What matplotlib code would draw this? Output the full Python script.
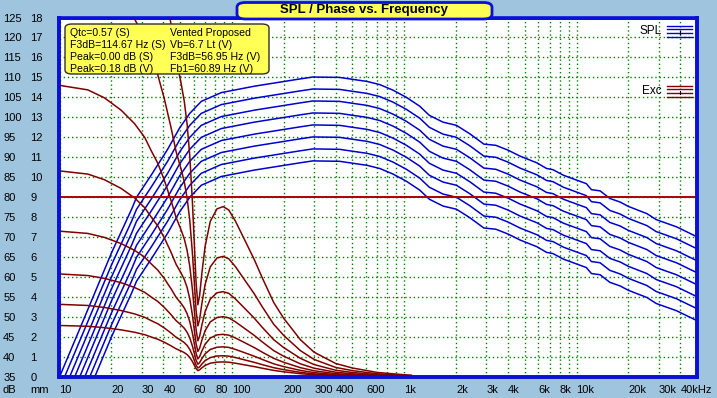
import numpy as np
import matplotlib
matplotlib.use('Agg')
import matplotlib.pyplot as plt
from matplotlib.patches import FancyBboxPatch

plt.rcParams['font.family'] = ['Liberation Sans', 'DejaVu Sans']

# SPL of the loudest curve (dB), the others sit 3 dB apart below it
spl_freq = [10, 14, 20, 26.2, 28, 34, 42.4, 49.7, 57, 66.5, 86.9, 135, 247, 295, 422,
            505, 608, 722, 862, 1030, 1230, 1400, 1680, 2010, 2400, 2900, 3400, 4000,
            4700, 5900, 6700, 7300, 8400, 10000, 11400, 12200, 13700, 15600, 17900,
            20000, 25600, 29000, 38000, 50000]
spl_top = [35, 50, 66, 77, 80, 85.5, 92, 97.3, 101, 104, 106.2, 107.8, 109.6, 110.1,
           110, 109.5, 109, 108.2, 106.8, 105, 102.8, 100.5, 98.8, 98, 95.9, 93.3, 93,
           91.8, 90.3, 88.6, 87.2, 86.9, 85.5, 84.3, 83.4, 81.9, 81.6, 79.7, 78.8, 77.7,
           75.9, 74.4, 72.6, 70.1]
spl_offsets = [0, -3, -6, -9, -12, -15, -18, -21]

# cone excursion of the quietest curve (mm), the others scale by ~1.41 steps
exc_freq = [10, 14.6, 18.2, 22.8, 27.3, 31.2, 34.1, 37.2, 40.6, 44.4, 47.5, 50.8, 53,
            55, 57, 59, 60.5, 62, 63.5, 65, 67, 70, 75, 82, 89, 96, 105, 120, 135, 150,
            175, 200, 250, 300, 400, 500, 700, 1000, 1100]
exc_base = [2.58, 2.54, 2.47, 2.36, 2.24, 2.12, 2.0, 1.89, 1.74, 1.56, 1.41, 1.3, 1.22,
            1.12, 0.98, 0.78, 0.6, 0.42, 0.32, 0.36, 0.46, 0.58, 0.69, 0.745, 0.755,
            0.74, 0.69, 0.6, 0.52, 0.44, 0.33, 0.26, 0.165, 0.11, 0.06, 0.04, 0.02,
            0.01, 0.008]
exc_scales = [1, 1.41, 2, 2.83, 4, 5.66, 8, 11.3]
xmax_mm = 9

major_f = [10, 20, 30, 40, 60, 80, 100, 200, 300, 400, 600, 1000, 2000, 3000, 4000,
           6000, 8000, 10000, 20000, 30000, 40000]
major_lbl = ['10', '20', '30', '40', '60', '80', '100', '200', '300', '400', '600', '1k',
             '2k', '3k', '4k', '6k', '8k', '10k', '20k', '30k', '40kHz']
minor_f = [50, 70, 90, 500, 700, 800, 900, 5000, 7000, 9000]
db_ticks = list(range(35, 130, 5))
mm_ticks = list(range(0, 19))

info_left = ['Qtc=0.57 (S)', 'F3dB=114.67 Hz (S)', 'Peak=0.00 dB (S)', 'Peak=0.18 dB (V)']
info_right = ['Vented Proposed', 'Vb=6.7 Lt (V)', 'F3dB=56.95 Hz (V)', 'Fb1=60.89 Hz (V)']

W, H = 717, 398
bg = '#9fc5de'
frame = '#0a10d8'
fig = plt.figure(figsize=(W / 100, H / 100), dpi=100, facecolor=bg)
ax = fig.add_axes([59.5 / W, 1 - 377 / H, (697 - 59.5) / W, (377 - 17.5) / H])
ax.set_xscale('log')
ax.set_xlim(10, 50000)
ax.set_ylim(35, 125)
ax.set_facecolor('white')

ax.set_xticks(major_f, major_lbl)
ax.set_xticks(minor_f, minor=True)
ax.set_yticks(db_ticks)
ax.tick_params(axis='both', which='both', length=0, labelsize=8)
ax.tick_params(axis='x', pad=6)
ax.tick_params(axis='y', pad=40.5)
for t in ax.get_xticklabels():
    t.set_horizontalalignment('left')
for t in ax.get_yticklabels():
    t.set_horizontalalignment('left')
ax.grid(True, which='both', color='#008000', linestyle=(0, (1, 2)), linewidth=1)
ax.set_axisbelow(True)

for off in spl_offsets:
    ax.plot(spl_freq, np.array(spl_top) + off, color='#0000d0', lw=1.1)

ax2 = ax.twinx()
ax2.set_ylim(0, 18)
ax2.set_yticks(mm_ticks)
ax2.yaxis.set_ticks_position('left')
ax2.tick_params(axis='y', length=0, labelsize=8, pad=21)
for t in ax2.get_yticklabels():
    t.set_horizontalalignment('left')
for sc in exc_scales:
    ax2.plot(exc_freq, np.array(exc_base) * sc, color='#800000', lw=1.1)
ax2.axhline(xmax_mm, color='#b00000', lw=1.4)

for a in (ax, ax2):
    for s in a.spines.values():
        s.set_color(frame)
        s.set_linewidth(2.6)
ax.spines['top'].set_linewidth(2)

fig.text(3 / W, 1 - 390 / H, 'dB', fontsize=8, va='center')
fig.text(30 / W, 1 - 390 / H, 'mm', fontsize=8, va='center')

# title box
tb = FancyBboxPatch((237 / W, 1 - 19 / H), 255 / W, 16.5 / H,
                    boxstyle='round,pad=0,rounding_size=0.012', transform=fig.transFigure,
                    facecolor='#ffff55', edgecolor=frame, lw=2, zorder=5)
fig.patches.append(tb)
fig.text(364.5 / W, 1 - 10.5 / H, 'SPL / Phase vs. Frequency', fontsize=9.5,
         fontweight='bold', ha='center', va='center', zorder=6)

# info box
ib = FancyBboxPatch((65 / W, 1 - 74 / H), 204 / W, 50 / H,
                    boxstyle='round,pad=0,rounding_size=0.01', transform=fig.transFigure,
                    facecolor='#ffff55', edgecolor='#303030', lw=1, zorder=5)
fig.patches.append(ib)
for i, (l, r) in enumerate(zip(info_left, info_right)):
    y = 1 - (32.5 + 12 * i) / H
    fig.text(70 / W, y, l, fontsize=7.6, va='center', zorder=6)
    fig.text(170 / W, y, r, fontsize=7.6, va='center', zorder=6)

# legend swatches
for name, col, yc in [('SPL', '#0000d0', 31.5), ('Exc', '#800000', 91.5)]:
    fig.text(662 / W, 1 - yc / H, name, fontsize=8.5, ha='right', va='center')
    for dy in (-5.5, -2.2, 1.8, 5.2):
        fig.lines.append(plt.Line2D([667 / W, 692 / W], [1 - (yc + dy) / H] * 2,
                                    transform=fig.transFigure, color=col, lw=1))
    fig.lines.append(plt.Line2D([680 / W, 680 / W], [1 - (yc - 1) / H, 1 - (yc + 2) / H],
                                transform=fig.transFigure, color='black', lw=0.8))

fig.savefig('out.png', dpi=100, facecolor=bg)
